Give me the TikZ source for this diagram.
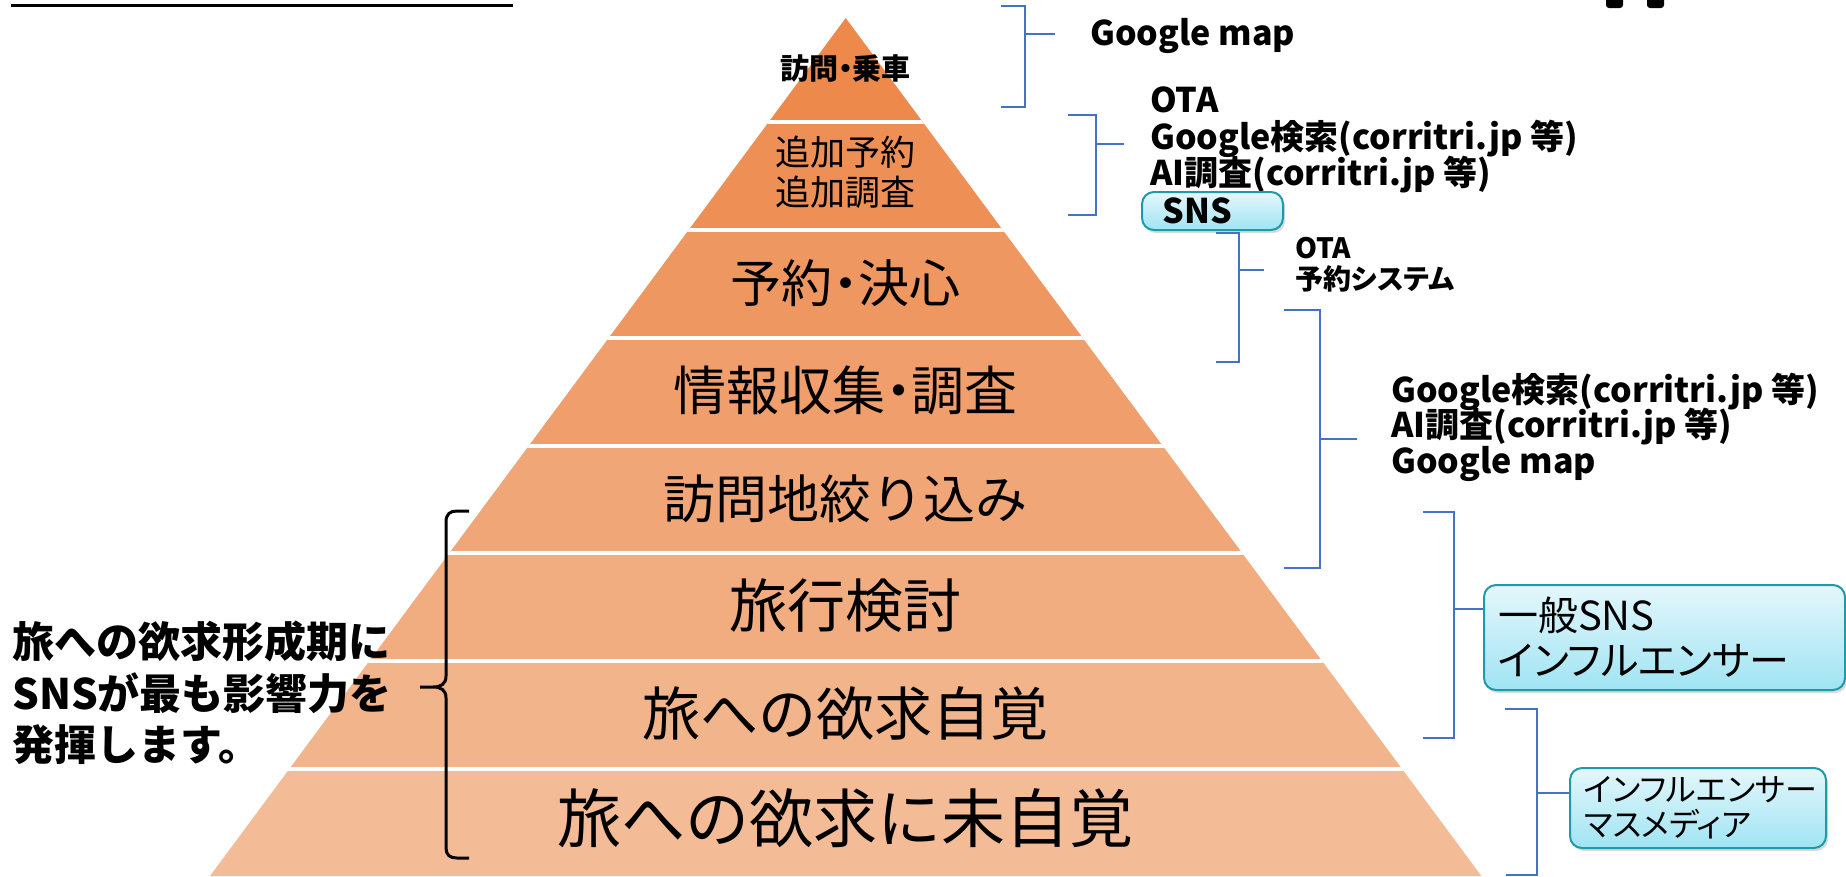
\documentclass[tikz,border=0pt]{standalone}
\usepackage{fontspec}
\setmainfont{Noto Sans CJK JP}
\newfontfamily\jpp{Noto Sans CJK JP}[RawFeature=+palt]
\usetikzlibrary{shadows}
\newcommand\fsz[2]{\fontsize{#1pt}{#2pt}\selectfont}
\definecolor{c1}{RGB}{237,137,74}
\definecolor{c2}{RGB}{238,144,85}
\definecolor{c3}{RGB}{239,151,96}
\definecolor{c4}{RGB}{240,158,107}
\definecolor{c5}{RGB}{240,166,118}
\definecolor{c6}{RGB}{241,173,128}
\definecolor{c7}{RGB}{242,180,139}
\definecolor{c8}{RGB}{243,187,150}
\definecolor{brkc}{RGB}{68,114,196}
\definecolor{boxline}{RGB}{30,154,168}
\definecolor{boxtop}{RGB}{228,247,252}
\definecolor{boxbot}{RGB}{160,228,243}
\begin{document}
\begin{tikzpicture}[x=1pt,y=-1pt,
  lay/.style={inner sep=0pt, align=center, text=black},
  brk/.style={draw=brkc, line width=1.8pt},
  lst/.style={anchor=base west, inner sep=0pt, font=\bfseries\fsz{34}{37}},
  sbox/.style={draw=boxline, line width=2pt, rounded corners=12pt,
    top color=boxtop, bottom color=boxbot,
    drop shadow={opacity=0.3, shadow xshift=2pt, shadow yshift=-3pt},
    align=left, anchor=north west, inner ysep=0pt}]
\useasboundingbox (0,0) rectangle (1846,876);
% cut-off title underline and marks at the top
\draw[black, line width=2.5pt] (11,5.5) -- (513,5.5);
\fill[black, rounded corners=3pt] (1606,-6) rectangle (1623,8);
\fill[black, rounded corners=3pt] (1647,-6) rectangle (1664,8);
% pyramid
\begin{scope}
\clip (845.7,18) -- (210,876) -- (1481.4,876) -- cycle;
\fill[c1] (0,0) rectangle (1846,122);
\fill[c2] (0,122) rectangle (1846,230);
\fill[c3] (0,230) rectangle (1846,338);
\fill[c4] (0,338) rectangle (1846,446);
\fill[c5] (0,446) rectangle (1846,553);
\fill[c6] (0,553) rectangle (1846,661);
\fill[c7] (0,661) rectangle (1846,769);
\fill[c8] (0,769) rectangle (1846,880);
\foreach \yy in {122,230,338,446,553,661,769}
  \draw[white, line width=3.5pt] (0,\yy) -- (1846,\yy);
\end{scope}
\node[lay, font=\jpp\bfseries\fsz{29}{32}] (l1) at (845.7,68) {訪問・乗車};
\node[lay, font=\fsz{35}{40}] (l2) at (845.7,172) {追加予約\\追加調査};
\node[lay, font=\jpp\fsz{51}{56}] (l3) at (845.7,283) {予約・決心};
\node[lay, font=\jpp\fsz{53}{56}] (l4) at (845.7,390) {情報収集・調査};
\node[lay, font=\fsz{52}{58}] (l5) at (845.7,499) {訪問地絞り込み};
\node[lay, font=\fsz{58}{64}] (l6) at (845.7,606) {旅行検討};
\node[lay, font=\fsz{58}{64}] (l7) at (845.7,713) {旅への欲求自覚};
\node[lay, font=\fsz{64}{70}] (l8) at (845.7,818) {旅への欲求に未自覚};
% left note and brace
\node[anchor=west, align=left, inner sep=0pt, font=\bfseries\fsz{42}{51.5}] (note) at (12,693)
  {旅への欲求形成期に\\SNSが最も影響力を\\発揮します。};
\draw[black, line width=3pt] (469,511) -- (457,511) .. controls (450,511) and (446,514) .. (446,522)
  -- (446,676) .. controls (446,684) and (441,687) .. (433,687) -- (420,687)
  -- (433,687) .. controls (441,687) and (446,690) .. (446,698)
  -- (446,848) .. controls (446,855) and (450,858) .. (457,858) -- (469,858);
% right side lists
\node[lst] (gm1) at (1090,45) {Google map};
\node[lst] (ota1) at (1150,112) {OTA};
\node[lst] (gs1) at (1150,149) {Google検索(corritri.jp 等)};
\node[lst] (ai1) at (1150,185) {AI調査(corritri.jp 等)};
\node[sbox, minimum width=141pt, minimum height=38pt, text width=100pt, inner xsep=20pt,
  font=\bfseries\fsz{34}{36}] (sns) at (1141,191) {SNS};
\node[lst, font=\jpp\bfseries\fsz{28}{32}] (ota2) at (1295,258) {OTA};
\node[lst, font=\jpp\bfseries\fsz{28}{32}] (rs2) at (1295,289) {予約システム};
\node[lst] (gs3) at (1391,402) {Google検索(corritri.jp 等)};
\node[lst] (ai3) at (1391,437) {AI調査(corritri.jp 等)};
\node[lst] (gm3) at (1391,473) {Google map};
\node[sbox, minimum width=361pt, minimum height=105pt, text width=333pt, inner xsep=14pt,
  font=\jpp\fsz{40}{45}] (box1) at (1483,584) {一般SNS\\インフルエンサー};
\node[sbox, minimum width=256pt, minimum height=80pt, text width=228pt, inner xsep=14pt,
  font=\jpp\fsz{32}{35}] (box2) at (1569,767) {インフルエンサー\\マスメディア};
% blue brackets
\draw[brk] (1001,6) -| (1025,107) -- (1001,107);
\draw[brk] (1025,34) -- (1055,34);
\draw[brk] (1068,115) -| (1096,215) -- (1068,215);
\draw[brk] (1096,144) -- (1124,144);
\draw[brk] (1216,233) -| (1239,362) -- (1216,362);
\draw[brk] (1239,270) -- (1264,270);
\draw[brk] (1284,310) -| (1320,568) -- (1284,568);
\draw[brk] (1320,439) -- (1357,439);
\draw[brk] (1423,512) -| (1454,738) -- (1423,738);
\coordinate (t5) at (1454,609);
\draw[brk] (t5) -- (t5 -| box1.west);
\draw[brk] (1505,709) -| (1537,875) -- (1506,875);
\coordinate (t6) at (1537,793);
\draw[brk] (t6) -- (t6 -| box2.west);
\end{tikzpicture}
\end{document}
